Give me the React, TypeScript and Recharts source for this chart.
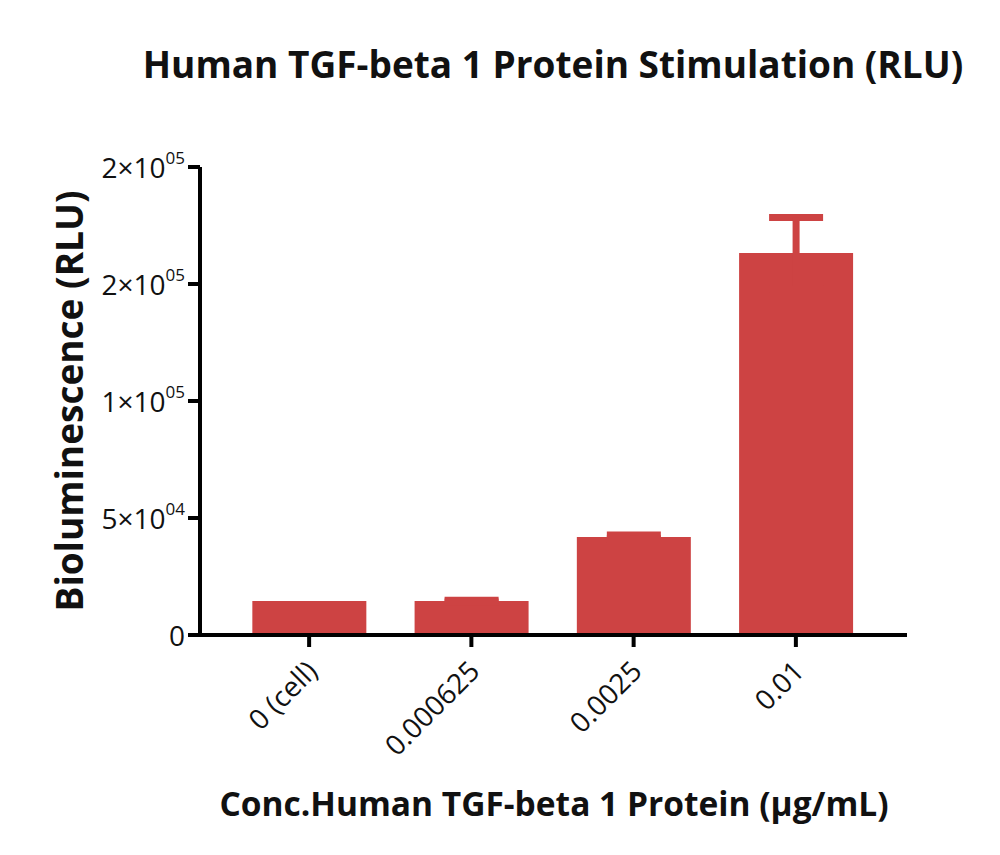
import React from "react";
import { BarChart, Bar, XAxis, YAxis, ErrorBar, Cell } from "recharts";

const categories = ["0 (cell)", "0.000625", "0.0025", "0.01"];
const means = [14500, 14500, 41900, 163200];
const errors = [0, 400, 800, 15200];

const yTicks = [0, 50000, 100000, 150000, 200000];
const yTickBase = ["0", "5\u00d710", "1\u00d710", "2\u00d710", "2\u00d710"];
const yTickExp = ["", "04", "05", "05", "05"];

const barColor = "#cd4343";
const font = "'Open Sans', sans-serif";

const data = categories.map((c, i) => ({ name: c, value: means[i], err: errors[i] }));

function YTick(props: any) {
  const { x, y, index } = props;
  const exp = yTickExp[index];
  return (
    <text x={x - 1} y={y + 11} textAnchor="end" style={{ fontFamily: font, fontSize: 28 }} fill="#111">
      <tspan>{yTickBase[index]}</tspan>
      {exp ? (
        <tspan style={{ fontSize: 17 }} dy={-14}>{exp}</tspan>
      ) : null}
    </text>
  );
}

function XTick(props: any) {
  const { x, y, payload } = props;
  return (
    <g transform={`translate(${x + 10},${y + 24})`}>
      <text textAnchor="end" transform="rotate(-45)" style={{ fontFamily: font, fontSize: 28 }} fill="#111">
        {payload.value}
      </text>
    </g>
  );
}

export default function App() {
  return (
    <div style={{ position: "absolute", left: 0, top: 0, width: 1000, height: 855, background: "#fff", fontFamily: font }}>
      <div style={{ position: "absolute", left: 0, width: 1106, top: 38, textAlign: "center", fontSize: 37, fontWeight: 700, color: "#111", whiteSpace: "nowrap" }}>
        Human TGF-beta 1 Protein Stimulation (RLU)
      </div>
      <div
        style={{
          position: "absolute",
          left: 68,
          top: 401,
          transform: "translate(-50%, -50%) rotate(-90deg)",
          whiteSpace: "nowrap",
          fontSize: 37,
          fontWeight: 700,
          color: "#111",
        }}
      >
        Bioluminescence (RLU)
      </div>
      <div style={{ position: "absolute", left: 0, width: 1108, top: 780, textAlign: "center", fontSize: 33.5, fontWeight: 700, color: "#111", whiteSpace: "nowrap" }}>
        Conc.Human TGF-beta 1 Protein (µg/mL)
      </div>
      <div style={{ position: "absolute", left: 0, top: 0 }}>
        <BarChart width={1000} height={855} data={data} margin={{ top: 167, right: 93, bottom: 0, left: 0 }} barCategoryGap="15%">
          <XAxis
            dataKey="name"
            height={220}
            padding={{ left: 28, right: 30 }}
            axisLine={{ stroke: "#000", strokeWidth: 4 }}
            tickLine={{ stroke: "#000", strokeWidth: 4 }}
            tickSize={12}
            tick={<XTick />}
            interval={0}
          />
          <YAxis
            width={200}
            domain={[0, 200000]}
            ticks={yTicks}
            allowDataOverflow
            axisLine={{ stroke: "#000", strokeWidth: 4 }}
            tickLine={{ stroke: "#000", strokeWidth: 4 }}
            tickSize={12}
            tick={<YTick />}
          />
          <Bar dataKey="value" fill={barColor} isAnimationActive={false}>
            {data.map((d, i) => (
              <Cell key={i} fill={barColor} />
            ))}
            <ErrorBar dataKey="err" width={27} stroke={barColor} strokeWidth={7} direction="y" />
          </Bar>
        </BarChart>
      </div>
    </div>
  );
}
